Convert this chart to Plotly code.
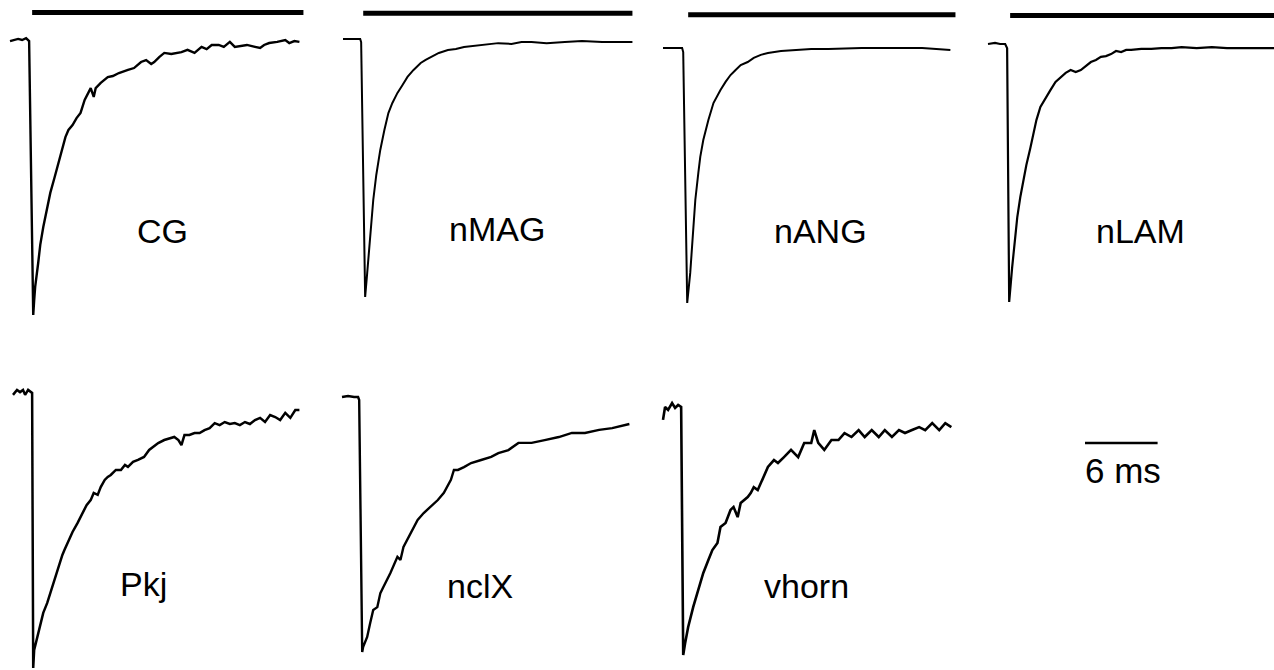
import plotly.graph_objects as go

# ---------------- data (time in ms from trace start, current normalised to peak) ----------------
cg_t = [0, 0.33, 0.67, 1.0, 1.33, 1.58, 1.92, 2.0, 2.08, 2.33, 2.5, 2.75, 3.0, 3.33, 3.67, 4.0, 4.33, 4.58,
        4.83, 5.17, 5.5, 5.83, 6.17, 6.5, 6.67, 6.92, 7.08, 7.5, 8.08, 8.5, 9.0, 9.75, 10.25, 10.83, 11.25,
        11.67, 11.92, 12.33, 12.75, 13.33, 14.17, 14.67, 15.25, 15.83, 16.25, 16.67, 17.25, 17.67, 18.17,
        18.58, 19.17, 19.58, 20.25, 20.67, 21.0, 21.42, 22.08, 22.75, 23.08, 23.5, 23.92]
cg_i = [-0.004, 0, 0.004, 0, 0.007, -0.004, -1.0, -0.945, -0.898, -0.811, -0.745, -0.680, -0.625, -0.556,
        -0.502, -0.447, -0.400, -0.353, -0.327, -0.309, -0.284, -0.265, -0.218, -0.193, -0.175, -0.207,
        -0.175, -0.156, -0.135, -0.131, -0.120, -0.109, -0.102, -0.080, -0.073, -0.087, -0.080, -0.062,
        -0.047, -0.051, -0.044, -0.036, -0.047, -0.025, -0.033, -0.018, -0.018, -0.025, -0.007, -0.025,
        -0.022, -0.018, -0.025, -0.029, -0.018, -0.011, -0.007, 0, -0.011, -0.004, -0.007]

nmag_t = [0, 0.58, 1.42, 1.5, 1.83, 2.0, 2.25, 2.5, 2.75, 3.08, 3.42, 3.75, 4.08, 4.5, 4.92, 5.33, 5.83, 6.42,
          6.83, 7.25, 7.92, 8.67, 9.33, 10.0, 10.75, 11.42, 12.25, 12.83, 13.92, 14.75, 15.58, 16.83, 18.33,
          19.75, 21.42, 22.67, 23.92]
nmag_i = [0, 0, 0, -0.012, -1.0, -0.907, -0.752, -0.624, -0.527, -0.430, -0.353, -0.287, -0.248, -0.209,
          -0.178, -0.147, -0.120, -0.093, -0.081, -0.070, -0.054, -0.043, -0.039, -0.031, -0.027, -0.023,
          -0.019, -0.016, -0.019, -0.012, -0.012, -0.016, -0.012, -0.008, -0.012, -0.012, -0.012]

nang_t = [0, 1.0, 1.58, 1.67, 2.0, 2.25, 2.5, 2.67, 2.92, 3.08, 3.33, 3.75, 4.17, 4.42, 4.75, 5.17, 5.58, 6.0,
          6.42, 7.0, 7.5, 8.08, 8.67, 9.75, 10.83, 12.25, 13.67, 16.42, 19.17, 21.42, 23.75]
nang_i = [0, 0, 0, -0.016, -1.0, -0.882, -0.702, -0.596, -0.490, -0.427, -0.361, -0.282, -0.216, -0.192,
          -0.165, -0.133, -0.106, -0.086, -0.067, -0.055, -0.039, -0.027, -0.020, -0.012, -0.008, -0.004,
          -0.004, 0, 0, 0, -0.008]

nlam_t = [0, 0.58, 1.0, 1.42, 1.58, 1.75, 2.0, 2.25, 2.42, 2.67, 2.92, 3.17, 3.5, 3.75, 4.0, 4.33, 4.75, 5.17,
          5.58, 6.0, 6.42, 6.83, 7.25, 7.67, 8.08, 8.5, 8.92, 9.33, 9.75, 10.17, 10.58, 11.0, 11.42, 11.83,
          12.67, 13.5, 14.33, 15.17, 16.0, 17.25, 18.5, 19.75, 21.0, 22.25, 23.75]
nlam_i = [0, 0.004, 0, 0, -0.016, -1.0, -0.864, -0.760, -0.671, -0.593, -0.527, -0.469, -0.403, -0.345,
          -0.295, -0.244, -0.209, -0.178, -0.147, -0.128, -0.112, -0.101, -0.109, -0.101, -0.085, -0.070,
          -0.062, -0.050, -0.047, -0.039, -0.027, -0.031, -0.023, -0.023, -0.019, -0.019, -0.016, -0.016,
          -0.012, -0.016, -0.012, -0.016, -0.016, -0.016, -0.016]

pkj_t = [0, 0.33, 0.58, 0.83, 1.0, 1.25, 1.58, 1.67, 1.75, 2.0, 2.25, 2.5, 2.83, 3.08, 3.42, 3.75, 4.08, 4.25,
         4.5, 4.92, 5.33, 5.75, 6.08, 6.42, 6.67, 7.0, 7.25, 7.58, 7.83, 8.08, 8.5, 8.92, 9.25, 9.5, 9.92,
         10.33, 10.83, 11.25, 11.58, 12.0, 12.5, 12.92, 13.33, 13.67, 13.92, 14.17, 14.58, 15.0, 15.42, 15.83,
         16.25, 16.67, 17.08, 17.5, 17.92, 18.33, 18.75, 19.17, 19.58, 20.0, 20.42, 20.83, 21.25, 21.67,
         22.08, 22.5, 22.92, 23.33, 23.67]
pkj_i = [-0.014, 0.004, -0.004, 0.004, -0.014, 0.004, -0.007, -1.0, -0.935, -0.888, -0.845, -0.801, -0.765,
         -0.729, -0.682, -0.635, -0.592, -0.574, -0.549, -0.509, -0.477, -0.437, -0.412, -0.394, -0.368,
         -0.375, -0.347, -0.321, -0.310, -0.303, -0.285, -0.285, -0.267, -0.274, -0.256, -0.249, -0.238,
         -0.213, -0.202, -0.188, -0.177, -0.170, -0.166, -0.177, -0.195, -0.159, -0.159, -0.152, -0.152,
         -0.141, -0.134, -0.116, -0.123, -0.112, -0.119, -0.116, -0.123, -0.112, -0.119, -0.105, -0.097,
         -0.112, -0.087, -0.094, -0.105, -0.079, -0.097, -0.069, -0.069]

nclx_t = [0, 0.5, 1.0, 1.33, 1.42, 1.67, 1.75, 2.08, 2.33, 2.58, 2.92, 3.17, 3.42, 4.0, 4.58, 4.83, 5.08, 5.67,
          5.92, 6.25, 6.75, 7.33, 7.92, 8.42, 9.0, 9.25, 9.58, 10.08, 10.67, 11.5, 12.33, 12.92, 13.75,
          14.58, 15.67, 16.75, 17.92, 19.0, 20.08, 21.25, 22.33, 23.75]
nclx_i = [0, 0.004, 0, 0, -0.012, -1.0, -0.980, -0.941, -0.886, -0.835, -0.824, -0.769, -0.745, -0.690,
          -0.627, -0.639, -0.588, -0.533, -0.510, -0.482, -0.455, -0.431, -0.404, -0.376, -0.325, -0.286,
          -0.286, -0.275, -0.259, -0.247, -0.235, -0.220, -0.208, -0.180, -0.180, -0.169, -0.157, -0.141,
          -0.141, -0.129, -0.122, -0.106]

vhorn_t = [0, 0.17, 0.42, 0.75, 1.0, 1.25, 1.5, 1.67, 1.83, 2.08, 2.5, 2.92, 3.33, 3.75, 4.08, 4.5, 4.75,
           5.17, 5.58, 5.83, 6.17, 6.42, 7.0, 7.25, 7.5, 7.83, 8.08, 8.67, 9.17, 9.5, 10.0, 10.58, 11.17,
           11.67, 12.25, 12.5, 12.83, 13.33, 13.92, 14.5, 15.0, 15.58, 16.17, 16.67, 17.25, 17.83, 18.33,
           18.92, 19.5, 20.0, 20.58, 21.17, 21.67, 22.25, 22.83, 23.33, 23.83]
vhorn_i = [-0.052, 0, -0.012, 0.016, -0.004, 0.008, 0, -1.0, -0.952, -0.887, -0.806, -0.738, -0.669, -0.617,
           -0.577, -0.548, -0.484, -0.468, -0.415, -0.403, -0.444, -0.387, -0.363, -0.347, -0.323, -0.335,
           -0.306, -0.242, -0.214, -0.226, -0.202, -0.173, -0.202, -0.145, -0.145, -0.093, -0.145, -0.173,
           -0.133, -0.133, -0.105, -0.121, -0.093, -0.121, -0.093, -0.121, -0.093, -0.121, -0.093, -0.105,
           -0.093, -0.081, -0.093, -0.065, -0.093, -0.065, -0.081]

labels = ["CG", "nMAG", "nANG", "nLAM", "Pkj", "nclX", "vhorn"]
series_t = [cg_t, nmag_t, nang_t, nlam_t, pkj_t, nclx_t, vhorn_t]
series_i = [cg_i, nmag_i, nang_i, nlam_i, pkj_i, nclx_i, vhorn_i]

# application bars (ms) for the top row
bar_start = [1.83, 1.67, 2.08, 1.83]
bar_end = [24.25, 23.92, 24.17, 24.6]
scale_ms = 6
scale_text = "6 ms"

# ---------------- layout (pixel placement of each panel) ----------------
W, H = 1274, 670
PX_PER_MS = 12.1
# (left px of trace, baseline px, peak px)
panel_px = [(10, 40, 315), (343, 39, 297), (663, 48, 303), (988, 44, 302),
            (13, 391, 668), (342, 397, 652), (663, 407, 655)]
bar_level = [0.10, 0.10, 0.13, 0.11]
trace_width = [2.4, 2.0, 2.0, 2.2, 2.5, 2.4, 2.6]
label_px = [(162, 231), (497, 229), (820, 231), (1140, 231), (143, 584), (480, 586), (806, 586)]
scale_px = (1085, 443)
scale_label_px = (1123, 470)
FONT = "Liberation Sans, Arial, Helvetica, sans-serif"

fig = go.Figure()
layout = {}


def axis_pair(k, x0, base, peak):
    sfx = "" if k == 1 else str(k)
    h = peak - base
    layout["xaxis" + sfx] = dict(domain=[0, 1], range=[-x0 / PX_PER_MS, (W - x0) / PX_PER_MS],
                                 visible=False, anchor="y" + sfx, fixedrange=True)
    layout["yaxis" + sfx] = dict(domain=[0, 1], range=[-(H - base) / h, base / h],
                                 visible=False, anchor="x" + sfx, fixedrange=True)
    return "x" + sfx, "y" + sfx


for k, (t, i) in enumerate(zip(series_t, series_i)):
    x0, base, peak = panel_px[k]
    xa, ya = axis_pair(k + 1, x0, base, peak)
    fig.add_trace(go.Scatter(x=t, y=i, xaxis=xa, yaxis=ya, mode="lines",
                             line=dict(color="black", width=trace_width[k]),
                             showlegend=False, hoverinfo="skip"))
    if k < 4:
        fig.add_trace(go.Scatter(x=[bar_start[k], bar_end[k]], y=[bar_level[k]] * 2, xaxis=xa, yaxis=ya,
                                 mode="lines", line=dict(color="black", width=5),
                                 showlegend=False, hoverinfo="skip"))

# scale bar
sx, sy = scale_px
xa, ya = axis_pair(8, sx, sy, sy + 100)
fig.add_trace(go.Scatter(x=[0, scale_ms], y=[0, 0], xaxis=xa, yaxis=ya, mode="lines",
                         line=dict(color="black", width=2.5), showlegend=False, hoverinfo="skip"))

annotations = []
for lab, (lx, ly) in zip(labels, label_px):
    annotations.append(dict(text=lab, x=lx / W, y=1 - ly / H, xref="paper", yref="paper",
                            xanchor="center", yanchor="middle", showarrow=False,
                            font=dict(family=FONT, size=34, color="black")))
annotations.append(dict(text=scale_text, x=scale_label_px[0] / W, y=1 - scale_label_px[1] / H,
                        xref="paper", yref="paper", xanchor="center", yanchor="middle", showarrow=False,
                        font=dict(family=FONT, size=35, color="black")))

fig.update_layout(width=W, height=H, autosize=False, margin=dict(l=0, r=0, t=0, b=0),
                  paper_bgcolor="white", plot_bgcolor="rgba(0,0,0,0)", annotations=annotations, **layout)

fig.write_html("out.html", config={"displayModeBar": False, "staticPlot": True},
               post_script="document.body.style.margin='0';document.body.style.overflow='hidden';")
